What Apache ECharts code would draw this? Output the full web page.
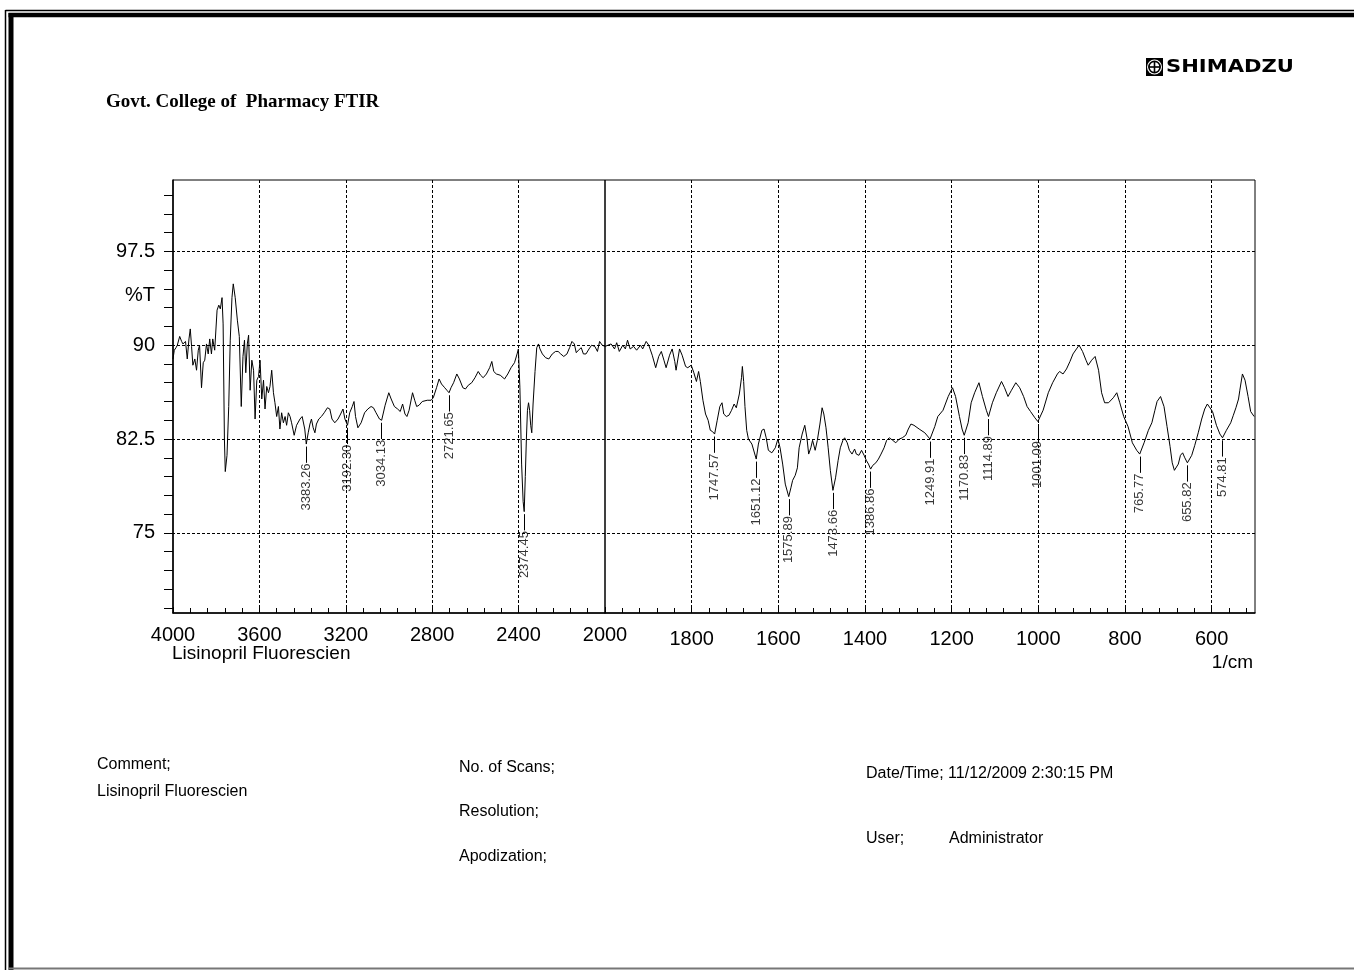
<!DOCTYPE html>
<html>
<head>
<meta charset="utf-8">
<title>FTIR - Lisinopril Fluorescien</title>
<script src="https://cdn.jsdelivr.net/npm/echarts@6/dist/echarts.min.js"></script>
<style>
  html, body { margin: 0; padding: 0; background: #fff; }
  #main { width: 1354px; height: 970px; }
</style>
</head>
<body>
<div id="main"></div>
<script>
// spectrum, 4000 -> 2000 1/cm (left panel)
var wnLeft = [
  4000, 3994, 3986, 3980, 3969, 3960, 3954, 3942, 3934, 3926,
  3920, 3914, 3908, 3899, 3891, 3883, 3877, 3868, 3860, 3853,
  3845, 3837, 3830, 3822, 3816, 3807, 3796, 3788, 3781, 3773,
  3768, 3762, 3758, 3750, 3742, 3735, 3727, 3721, 3712, 3702,
  3693, 3684, 3676, 3669, 3663, 3656, 3650, 3643, 3635, 3627,
  3620, 3612, 3604, 3597, 3589, 3581, 3574, 3566, 3558, 3551,
  3543, 3535, 3528, 3520, 3512, 3505, 3497, 3489, 3481, 3474,
  3466, 3458, 3451, 3439, 3428, 3412, 3402, 3390, 3383, 3374,
  3366, 3359, 3351, 3343, 3336, 3325, 3313, 3300, 3285, 3274,
  3264, 3251, 3236, 3224, 3213, 3204, 3192, 3182, 3170, 3162,
  3155, 3144, 3129, 3113, 3098, 3083, 3072, 3060, 3044, 3034,
  3018, 3001, 2990, 2975, 2960, 2948, 2937, 2926, 2917, 2907,
  2891, 2881, 2872, 2861, 2846, 2823, 2805, 2795, 2780, 2768,
  2757, 2742, 2732, 2722, 2713, 2701, 2686, 2674, 2658, 2646,
  2633, 2617, 2602, 2587, 2576, 2564, 2549, 2534, 2524, 2515,
  2503, 2485, 2465, 2450, 2435, 2419, 2407, 2401, 2394, 2386,
  2379, 2374, 2369, 2364, 2359, 2354, 2349, 2344, 2339, 2333,
  2324, 2316, 2308, 2301, 2290, 2275, 2260, 2244, 2229, 2217,
  2205, 2191, 2176, 2164, 2153, 2142, 2133, 2123, 2110, 2100,
  2088, 2074, 2062, 2047, 2035, 2025, 2013, 2005, 2000
];
var tLeft = [
  88.9, 89.6, 89.8, 90.0, 90.7, 90.3, 90.1, 90.3, 88.9, 90.5,
  91.3, 89.9, 88.4, 88.9, 88.0, 89.6, 90.0, 86.6, 88.6, 88.8,
  90.1, 89.3, 90.5, 89.3, 90.5, 89.6, 92.8, 93.2, 92.9, 93.8,
  91.7, 82.5, 79.9, 81.2, 85.1, 90.4, 93.8, 94.9, 93.8, 92.0,
  90.7, 85.1, 89.1, 90.4, 87.8, 90.1, 90.8, 86.4, 88.8, 88.0,
  84.1, 87.2, 87.5, 88.8, 85.7, 87.2, 84.9, 86.7, 86.2, 86.7,
  88.0, 86.2, 85.4, 84.3, 85.1, 83.3, 84.6, 83.8, 84.3, 83.6,
  84.6, 84.3, 83.8, 82.8, 83.6, 84.1, 84.3, 83.3, 82.1, 83.0,
  83.7, 84.1, 83.4, 83.0, 83.7, 84.1, 84.3, 84.6, 85.0, 84.9,
  84.1, 83.8, 84.1, 84.5, 84.9, 84.1, 83.6, 84.6, 85.1, 85.5,
  84.3, 83.4, 83.8, 84.6, 84.9, 85.1, 85.0, 84.6, 84.1, 84.0,
  85.2, 86.2, 85.7, 85.1, 84.9, 84.7, 85.3, 84.5, 84.3, 84.8,
  86.2, 85.6, 85.1, 85.2, 85.5, 85.6, 85.6, 85.8, 86.6, 87.3,
  86.9, 86.6, 86.4, 86.2, 86.6, 87.0, 87.7, 87.3, 86.6, 86.5,
  86.8, 87.0, 87.4, 87.9, 87.6, 87.4, 87.7, 88.2, 88.7, 87.9,
  87.7, 87.6, 87.3, 87.7, 88.2, 88.6, 89.3, 89.7, 86.6, 80.5,
  77.5, 76.7, 79.5, 82.5, 84.8, 85.4, 84.8, 83.6, 83.0, 85.3,
  87.9, 89.8, 90.1, 89.7, 89.3, 89.0, 88.9, 89.3, 89.5, 89.5,
  89.3, 89.1, 89.3, 89.8, 90.3, 90.1, 89.4, 89.6, 89.8, 89.3,
  89.3, 89.7, 90.0, 89.9, 89.5, 90.3, 90.0, 90.1, 89.9
];

// spectrum, 2000 -> 500 1/cm (right panel, expanded scale)
var wnRight = [
  2000, 1986, 1978, 1973, 1967, 1959, 1953, 1948, 1942, 1934,
  1927, 1918, 1913, 1905, 1899, 1891, 1883, 1876, 1870, 1864,
  1859, 1851, 1845, 1839, 1836, 1828, 1822, 1814, 1809, 1801,
  1795, 1789, 1784, 1780, 1774, 1768, 1762, 1757, 1752, 1747,
  1741, 1735, 1730, 1726, 1720, 1714, 1708, 1702, 1697, 1690,
  1685, 1683, 1680, 1677, 1673, 1669, 1661, 1651, 1646, 1638,
  1633, 1628, 1623, 1615, 1607, 1601, 1596, 1590, 1584, 1576,
  1571, 1567, 1561, 1556, 1552, 1545, 1539, 1534, 1530, 1525,
  1521, 1515, 1510, 1504, 1499, 1495, 1490, 1485, 1480, 1474,
  1468, 1462, 1457, 1451, 1447, 1441, 1436, 1430, 1424, 1420,
  1414, 1408, 1402, 1397, 1392, 1387, 1382, 1375, 1369, 1363,
  1356, 1350, 1344, 1336, 1329, 1321, 1314, 1306, 1300, 1294,
  1287, 1275, 1262, 1250, 1239, 1232, 1220, 1208, 1198, 1191,
  1182, 1176, 1171, 1162, 1155, 1147, 1137, 1129, 1120, 1115,
  1106, 1097, 1085, 1078, 1070, 1062, 1052, 1043, 1034, 1026,
  1018, 1008, 1001, 989, 977, 967, 956, 951, 943, 935,
  927, 920, 912, 906, 898, 890, 885, 877, 869, 861,
  854, 847, 838, 827, 819, 812, 803, 793, 783, 773,
  766, 756, 746, 738, 731, 726, 718, 710, 703, 696,
  691, 686, 683, 677, 672, 667, 662, 656, 646, 639,
  631, 623, 616, 610, 606, 598, 589, 581, 575, 566,
  556, 550, 544, 538, 535, 529, 523, 516, 510, 502
];
var tRight = [
  89.9, 90.1, 89.7, 90.2, 89.5, 90.0, 89.7, 90.4, 89.7, 89.9,
  89.6, 90.0, 89.7, 90.3, 90.0, 89.2, 88.2, 89.1, 89.5, 88.8,
  88.2, 89.2, 89.7, 88.7, 88.0, 89.7, 89.2, 88.3, 88.2, 88.4,
  87.8, 87.1, 87.9, 87.1, 85.6, 84.5, 84.0, 83.2, 83.1, 82.9,
  84.0, 85.1, 85.4, 84.5, 84.3, 84.4, 84.8, 85.3, 85.0, 86.1,
  87.4, 88.3, 87.1, 85.1, 83.2, 82.5, 82.1, 80.9, 82.1, 83.2,
  83.3, 82.6, 81.6, 81.4, 81.8, 82.5, 81.8, 80.5, 78.9, 77.9,
  78.6, 79.2, 79.6, 80.2, 81.8, 82.9, 83.6, 82.6, 81.3, 81.8,
  82.4, 81.6, 82.4, 83.7, 85.0, 84.5, 83.4, 81.8, 80.0, 78.4,
  79.4, 80.8, 81.8, 82.4, 82.6, 82.2, 81.6, 81.3, 81.7, 81.3,
  81.2, 81.6, 81.2, 80.8, 80.5, 80.1, 80.4, 80.6, 80.9, 81.3,
  81.8, 82.4, 82.6, 82.4, 82.2, 82.5, 82.6, 82.8, 83.3, 83.7,
  83.6, 83.3, 83.0, 82.5, 83.5, 84.3, 84.8, 85.9, 86.6, 85.9,
  84.3, 83.3, 82.8, 83.8, 85.4, 86.2, 87.0, 85.9, 84.8, 84.3,
  85.4, 86.2, 87.1, 86.6, 85.9, 86.4, 87.0, 86.6, 85.9, 85.1,
  84.7, 84.2, 83.9, 84.8, 86.2, 87.0, 87.7, 87.9, 87.7, 88.1,
  88.7, 89.3, 89.7, 90.0, 89.5, 88.8, 88.4, 88.8, 89.1, 88.0,
  86.2, 85.4, 85.4, 85.8, 86.2, 85.4, 84.3, 83.5, 82.2, 81.6,
  81.3, 82.2, 83.2, 83.8, 84.8, 85.5, 85.9, 85.1, 83.5, 81.9,
  80.6, 80.0, 79.9, 80.5, 81.2, 81.4, 81.0, 80.6, 81.2, 82.0,
  83.0, 84.1, 84.9, 85.3, 85.2, 84.7, 83.6, 82.9, 82.6, 83.2,
  83.8, 84.4, 85.0, 85.7, 86.4, 87.7, 87.2, 85.9, 84.7, 84.3
];

// labelled peaks
var peakWn = [3383.26, 3192.30, 3034.13, 2721.65, 2374.45, 1747.57, 1651.12, 1575.89, 1473.66,
              1386.86, 1249.91, 1170.83, 1114.89, 1001.09, 765.77, 655.82, 574.81];
var peakT = [82.1, 83.6, 84.0, 86.2, 76.7, 82.9, 80.9, 77.9, 78.4,
             80.1, 82.5, 82.8, 84.3, 83.9, 81.3, 80.6, 82.6];

// axes
var xLabelsLeft = [4000, 3600, 3200, 2800, 2400, 2000];
var xLabelsRight = [1800, 1600, 1400, 1200, 1000, 800, 600];
var yLabels = [75, 82.5, 90, 97.5];
var yMin = 68.6, yMax = 103.2;

var yTicks = [];
for (var v = 69; v <= 102.01; v += 1.5) yTicks.push(+v.toFixed(1));
var xTicksRight = [];
for (var w = 520; w < 2000; w += 40) xTicksRight.push(w);

function pairs(xs, ys) {
  return xs.map(function (x, i) { return [x, ys[i]]; });
}

var FONT = 'Liberation Sans, Arial, sans-serif';
var dash = { color: '#000', type: [3, 2], width: 1 };
var plain = function (val) { return String(val); };

function gridLines(xs) {
  var d = xs.map(function (x) { return { xAxis: x }; });
  yLabels.forEach(function (y) { d.push({ yAxis: y }); });
  return {
    silent: true, symbol: ['none', 'none'], animation: false,
    label: { show: false }, lineStyle: dash, data: d
  };
}

function peakSeries(idx, test) {
  var pts = [], segs = [];
  peakWn.forEach(function (w, i) {
    if (!test(w)) return;
    pts.push([w, peakT[i]]);
    segs.push([{ coord: [w, peakT[i] - 0.2] }, { coord: [w, peakT[i] - 1.5] }]);
  });
  return {
    type: 'scatter', xAxisIndex: idx, yAxisIndex: idx, silent: true, z: 5,
    data: pts, symbolSize: 1, itemStyle: { color: 'rgba(0,0,0,0)' },
    label: {
      show: true, position: 'bottom', distance: 19, rotate: 90,
      align: 'right', verticalAlign: 'middle',
      fontSize: 13, fontFamily: FONT, color: '#000',
      formatter: function (p) { return p.value[0].toFixed(2); }
    },
    markLine: {
      silent: true, symbol: ['none', 'none'], animation: false,
      label: { show: false }, lineStyle: { color: '#000', type: 'solid', width: 1 },
      data: segs
    }
  };
}

var chart = echarts.init(document.getElementById('main'));

var axisFont = { color: '#000', fontSize: 20, fontFamily: FONT, formatter: plain };
var foot = '16px ' + FONT;

var option = {
  backgroundColor: '#fff',
  animation: false,
  grid: [
    { left: 173, top: 180, width: 432, height: 433, show: true, borderColor: '#000', borderWidth: 1 },
    { left: 605, top: 180, width: 650, height: 433, show: true, borderColor: '#000', borderWidth: 1 }
  ],
  xAxis: [
    {
      type: 'value', gridIndex: 0, min: 2000, max: 4000, interval: 400, inverse: true,
      axisLine: { show: true, lineStyle: { color: '#000', width: 1.5 } },
      axisTick: { show: true, inside: true, length: 6, lineStyle: { color: '#000' } },
      minorTick: { show: true, splitNumber: 5, length: 5, lineStyle: { color: '#000' } },
      axisLabel: Object.assign({ margin: 12, customValues: xLabelsLeft }, axisFont),
      splitLine: { show: false }
    },
    {
      type: 'value', gridIndex: 1, min: 500, max: 2000, inverse: true,
      axisLine: { show: true, lineStyle: { color: '#000', width: 1.5 } },
      axisTick: { show: true, inside: true, length: 5, customValues: xTicksRight, lineStyle: { color: '#000' } },
      axisLabel: Object.assign({ margin: 16, customValues: xLabelsRight }, axisFont),
      splitLine: { show: false }
    }
  ],
  yAxis: [
    {
      type: 'value', gridIndex: 0, min: yMin, max: yMax,
      axisLine: { show: true, lineStyle: { color: '#000', width: 1.5 } },
      axisTick: { show: true, inside: false, length: 9, customValues: yTicks, lineStyle: { color: '#000' } },
      axisLabel: Object.assign({ margin: 18, customValues: yLabels }, axisFont),
      splitLine: { show: false }
    },
    {
      type: 'value', gridIndex: 1, min: yMin, max: yMax, show: false,
      splitLine: { show: false }
    }
  ],
  series: [
    {
      type: 'line', xAxisIndex: 0, yAxisIndex: 0, data: pairs(wnLeft, tLeft),
      showSymbol: false, symbol: 'none', silent: true,
      lineStyle: { color: '#000', width: 1 },
      markLine: gridLines([3600, 3200, 2800, 2400])
    },
    {
      type: 'line', xAxisIndex: 1, yAxisIndex: 1, data: pairs(wnRight, tRight),
      showSymbol: false, symbol: 'none', silent: true,
      lineStyle: { color: '#000', width: 1 },
      markLine: gridLines(xLabelsRight)
    },
    peakSeries(0, function (w) { return w > 2000; }),
    peakSeries(1, function (w) { return w <= 2000; })
  ],
  graphic: [
    // page frame
    { type: 'line', shape: { x1: 5.5, y1: 10.5, x2: 1354, y2: 10.5 }, style: { stroke: '#000', lineWidth: 1.5 } },
    { type: 'line', shape: { x1: 8.5, y1: 15, x2: 1354, y2: 15 }, style: { stroke: '#000', lineWidth: 4.5 } },
    { type: 'line', shape: { x1: 5.5, y1: 10, x2: 5.5, y2: 970 }, style: { stroke: '#000', lineWidth: 1.5 } },
    { type: 'line', shape: { x1: 11, y1: 13, x2: 11, y2: 970 }, style: { stroke: '#000', lineWidth: 5 } },
    { type: 'line', shape: { x1: 9, y1: 968.5, x2: 1354, y2: 968.5 }, style: { stroke: '#777', lineWidth: 2 } },
    // header
    { type: 'text', x: 106, y: 102, style: { text: 'Govt. College of  Pharmacy FTIR', font: 'bold 19px "Liberation Serif", "Times New Roman", serif', fill: '#000', textVerticalAlign: 'middle' } },
    { type: 'rect', shape: { x: 1146, y: 58, width: 17, height: 18 }, style: { fill: '#000' } },
    { type: 'circle', shape: { cx: 1154.5, cy: 67, r: 7.5 }, style: { fill: '#fff' } },
    { type: 'circle', shape: { cx: 1154.5, cy: 67, r: 5.6 }, style: { fill: 'none', stroke: '#000', lineWidth: 1.6 } },
    { type: 'line', shape: { x1: 1148.5, y1: 67, x2: 1160.5, y2: 67 }, style: { stroke: '#000', lineWidth: 1.6 } },
    { type: 'line', shape: { x1: 1154.5, y1: 61, x2: 1154.5, y2: 73 }, style: { stroke: '#000', lineWidth: 1.6 } },
    { type: 'text', x: 1166, y: 67.5, scaleX: 1.24, originX: 0, style: { text: 'SHIMADZU', font: 'bold 17px "DejaVu Sans", sans-serif', fill: '#000', textVerticalAlign: 'middle' } },
    // axis names
    { type: 'text', x: 155, y: 295, style: { text: '%T', font: '20px ' + FONT, fill: '#000', textAlign: 'right', textVerticalAlign: 'middle' } },
    { type: 'text', x: 172, y: 654, style: { text: 'Lisinopril Fluorescien', font: '19px ' + FONT, fill: '#000', textVerticalAlign: 'middle' } },
    { type: 'text', x: 1253, y: 663, style: { text: '1/cm', font: '19px ' + FONT, fill: '#000', textAlign: 'right', textVerticalAlign: 'middle' } },
    // footer
    { type: 'text', x: 97, y: 765, style: { text: 'Comment;', font: foot, fill: '#000', textVerticalAlign: 'middle' } },
    { type: 'text', x: 97, y: 792, style: { text: 'Lisinopril Fluorescien', font: foot, fill: '#000', textVerticalAlign: 'middle' } },
    { type: 'text', x: 459, y: 768, style: { text: 'No. of Scans;', font: foot, fill: '#000', textVerticalAlign: 'middle' } },
    { type: 'text', x: 459, y: 812, style: { text: 'Resolution;', font: foot, fill: '#000', textVerticalAlign: 'middle' } },
    { type: 'text', x: 459, y: 857, style: { text: 'Apodization;', font: foot, fill: '#000', textVerticalAlign: 'middle' } },
    { type: 'text', x: 866, y: 774, style: { text: 'Date/Time; 11/12/2009 2:30:15 PM', font: foot, fill: '#000', textVerticalAlign: 'middle' } },
    { type: 'text', x: 866, y: 839, style: { text: 'User;', font: foot, fill: '#000', textVerticalAlign: 'middle' } },
    { type: 'text', x: 949, y: 839, style: { text: 'Administrator', font: foot, fill: '#000', textVerticalAlign: 'middle' } }
  ]
};

chart.setOption(option);
</script>
</body>
</html>
